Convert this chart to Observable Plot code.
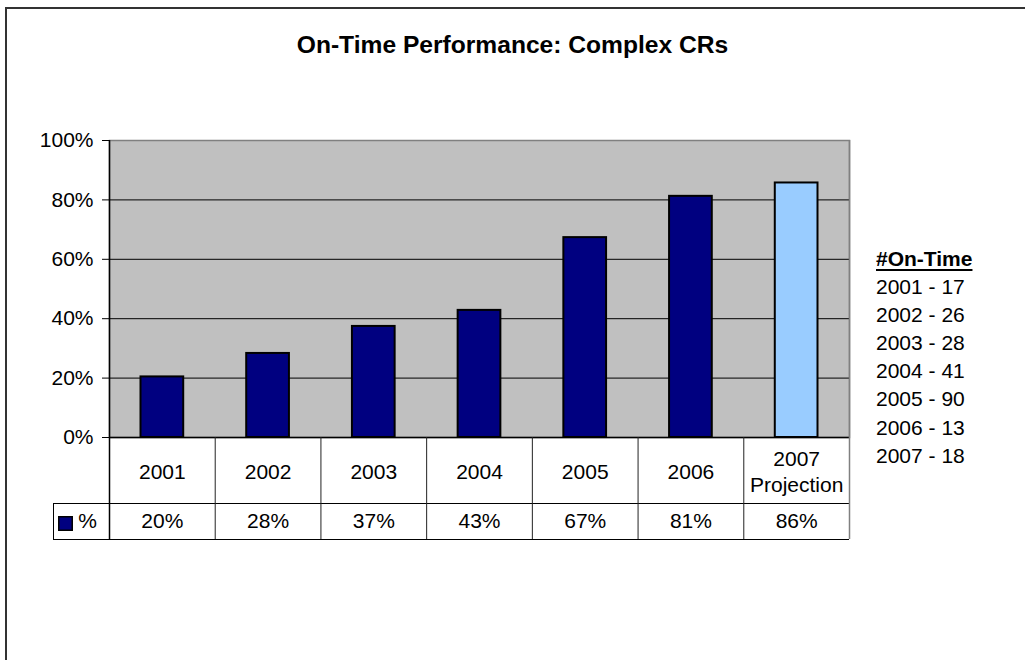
<!DOCTYPE html>
<html>
<head>
<meta charset="utf-8">
<script src="https://cdn.jsdelivr.net/npm/d3@7"></script>
<script src="https://cdn.jsdelivr.net/npm/@observablehq/plot@0.6"></script>
<style>
  html, body { margin: 0; background: #fff; font-family: "Liberation Sans", Arial, sans-serif; overflow: hidden; }
  #wrap { position: relative; width: 1025px; height: 660px; overflow: hidden; background: #fff; }
  #border { position: absolute; left: 5px; top: 7px; width: 1060px; height: 700px; border: 2px solid #333; pointer-events: none; }
  #title { height: 100px; box-sizing: border-box; padding-top: 31px; text-align: center; font-weight: bold; font-size: 24.6px; line-height: 28px; color: #000; }
  #chart { height: 560px; }
  #legend { position: absolute; left: 876px; top: 245px; font-size: 21px; line-height: 28.1px; color: #000; }
  #legend .head { font-weight: bold; text-decoration: underline; text-decoration-thickness: 2px; text-underline-offset: 3px; }
</style>
</head>
<body>
<div id="wrap">
  <div id="title">On-Time Performance: Complex CRs</div>
  <div id="chart"></div>
  <div id="legend"></div>
  <div id="border"></div>
</div>
<script>
// ---- data ----
const categories = ["2001", "2002", "2003", "2004", "2005", "2006", "2007\nProjection"];
const onTimePct = [0.204, 0.283, 0.374, 0.428, 0.673, 0.812, 0.857];
const barColors = ["#000080", "#000080", "#000080", "#000080", "#000080", "#000080", "#99CCFF"];
const yTicks = [0, 0.2, 0.4, 0.6, 0.8, 1];
const legendTitle = "#On-Time";
const legendYears = ["2001", "2002", "2003", "2004", "2005", "2006", "2007"];
const legendCounts = [17, 26, 28, 41, 90, 13, 18];
const seriesName = "%";

// ---- layout ----
const W = 1025, H = 560, ML = 109, MR = 176, MT = 40, MB = 223;
const innerH = H - MT - MB;
const bw = (W - ML - MR) / categories.length;
const pyv = (px) => -px / innerH;          // pixels below the baseline -> y units
const rowSep = pyv(66), tableBottom = pyv(102);
const fmt = d3.format(".0%");

const rows = categories.map((c, i) => ({cat: c, v: onTimePct[i], color: barColors[i], label: fmt(onTimePct[i])}));

const plot = Plot.plot({
  width: W, height: H,
  marginLeft: ML, marginRight: MR, marginTop: MT, marginBottom: MB,
  style: {fontFamily: "'Liberation Sans', Arial, sans-serif", fontSize: "21px", color: "#000", background: "transparent", overflow: "visible"},
  x: {type: "band", domain: categories, padding: 0, round: false, axis: null},
  y: {domain: [0, 1], axis: null},
  color: {type: "identity"},
  marks: [
    Plot.frame({fill: "#c0c0c0", stroke: "#808080", strokeWidth: 1.5}),
    Plot.ruleY([0.2, 0.4, 0.6, 0.8], {stroke: "#000", strokeWidth: 1}),
    Plot.barY(rows, {x: "cat", y: "v", fill: "color", stroke: "#000", strokeWidth: 2, insetLeft: 31.5, insetRight: 31.5}),
    Plot.axisY({ticks: yTicks, tickFormat: fmt, tickSize: 7, tickPadding: 9, fontSize: 21, stroke: "#000", fill: "#000", label: null}),
    // table grid
    Plot.ruleY([0], {stroke: "#000", strokeWidth: 1.5}),
    Plot.ruleY([rowSep, tableBottom], {stroke: "#000", strokeWidth: 1, insetLeft: -56}),
    Plot.ruleX(categories.slice(1), {x: d => d, dx: -bw / 2, y1: 0, y2: tableBottom, stroke: "#222", strokeWidth: 1}),
    Plot.ruleX([categories[0]], {x: d => d, dx: -bw / 2, y1: 1, y2: tableBottom, stroke: "#000", strokeWidth: 1.5}),
    Plot.ruleX([categories[categories.length - 1]], {x: d => d, dx: bw / 2, y1: 1, y2: tableBottom, stroke: "#808080", strokeWidth: 1.5}),
    Plot.ruleX([categories[0]], {x: d => d, dx: -bw / 2 - 56, y1: rowSep, y2: tableBottom, stroke: "#000", strokeWidth: 1}),
    // table text
    Plot.text(rows, {x: "cat", y: 0, text: "cat", dy: 33, fontSize: 21, lineHeight: 1.25, fill: "#000"}),
    Plot.text(rows, {x: "cat", y: 0, text: "label", dy: 84, fontSize: 21, fill: "#000"}),
    Plot.dot([categories[0]], {x: d => d, y: 0, dx: -bw / 2 - 44, dy: 86, symbol: "square", r: 7.6, fill: barColors[0], stroke: "#000", strokeWidth: 1.5}),
    Plot.text([seriesName], {x: () => categories[0], y: 0, text: d => d, dx: -bw / 2 - 22, dy: 84, fontSize: 21, fill: "#000"})
  ]
});
document.getElementById("chart").appendChild(plot);

// legend text
const lg = document.getElementById("legend");
const head = document.createElement("div");
head.className = "head";
head.textContent = legendTitle;
lg.appendChild(head);
legendYears.forEach((y, i) => {
  const d = document.createElement("div");
  d.textContent = `${y} - ${legendCounts[i]}`;
  lg.appendChild(d);
});
</script>
</body>
</html>
